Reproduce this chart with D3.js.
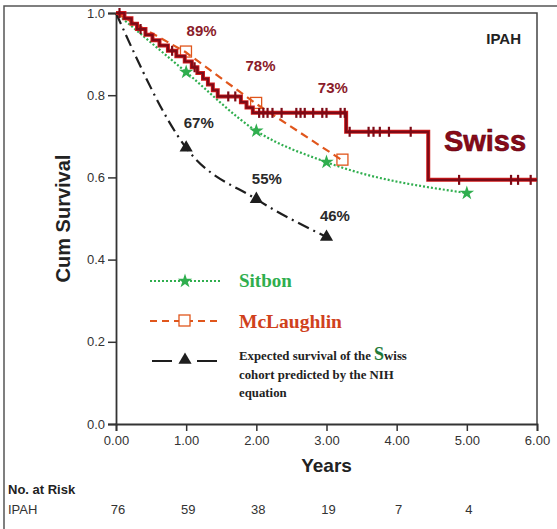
<!DOCTYPE html>
<html>
<head>
<meta charset="utf-8">
<script src="https://cdn.jsdelivr.net/npm/d3@7"></script>
<style>
  body { margin: 0; background: #fff; }
  text { font-family: "Liberation Sans", Arial, sans-serif; }
  .tick text { font-size: 13px; fill: #333; }
  .serif { font-family: "Liberation Serif", "Times New Roman", serif; font-weight: bold; }
</style>
</head>
<body>
<div id="viz"></div>
<script>
//Width and height
var w = 557;
var h = 529;

// Swiss cohort Kaplan-Meier steps (years, cum survival)
var swissTimes = [0, 0.12, 0.22, 0.30, 0.42, 0.52, 0.62, 0.74, 0.86, 0.98, 1.08, 1.16, 1.24, 1.31, 1.38, 1.45, 1.78, 1.86, 1.95, 3.28, 4.45, 6.0];
var swissSurv  = [1.0, 0.987, 0.974, 0.961, 0.947, 0.934, 0.921, 0.908, 0.895, 0.882, 0.868, 0.854, 0.840, 0.826, 0.812, 0.797, 0.783, 0.770, 0.757, 0.711, 0.594, 0.594];
// censored observations
var censorTimes = [0.05, 0.35, 0.80, 1.12, 1.60, 1.70, 2.04, 2.10, 2.16, 2.23, 2.36, 2.57, 2.63, 2.69, 2.81, 2.94, 3.0, 3.2, 3.26,
                   3.33, 3.6, 3.67, 3.76, 3.89, 4.2, 4.89, 5.63, 5.73, 5.91];

var sitbonYears = [0, 1, 2, 3, 5];
var sitbonSurv  = [1.0, 0.856, 0.713, 0.637, 0.562];

var mclYears = [0, 0.99, 1.99, 3.22];
var mclSurv  = [1.0, 0.905, 0.78, 0.642];

var nihYears = [0, 1, 2, 3];
var nihSurv  = [1.0, 0.672, 0.547, 0.455];

var swissLabels = ["89%", "78%", "73%"];
var nihLabels = ["67%", "55%", "46%"];

var riskYears = [0, 1, 2, 3, 4, 5];
var riskIPAH  = [76, 59, 38, 19, 7, 4];

var xTicks = [0, 1, 2, 3, 4, 5, 6];
var yTicks = [0, 0.2, 0.4, 0.6, 0.8, 1.0];

var colSwiss = "#7d0a16";
var colSitbon = "#2fae4e";
var colMcl = "#e0561c";
var colNih = "#1e1e1e";

var x = d3.scaleLinear().domain([0, 6]).range([116, 537]);
var y = d3.scaleLinear().domain([0, 1]).range([424, 13]);

var svg = d3.select("#viz")
            .append("svg")
            .attr("width", w)
            .attr("height", h);

// outer frame
svg.append("path")
    .attr("d", "M4,529V6H557")
    .attr("fill", "none")
    .attr("stroke", "#555")
    .attr("stroke-width", 1.5);

// plot frame top and right
svg.append("path")
    .attr("d", "M" + x(0) + "," + y(1) + "H" + x(6) + "V" + y(0))
    .attr("fill", "none")
    .attr("stroke", "#444")
    .attr("stroke-width", 1.5);

var xAxis = svg.append("g")
    .attr("transform", "translate(0," + y(0) + ")")
    .call(d3.axisBottom(x).tickValues(xTicks).tickFormat(d3.format(".2f")).tickSize(7).tickPadding(5));

var yAxis = svg.append("g")
    .attr("transform", "translate(" + x(0) + ",0)")
    .call(d3.axisLeft(y).tickValues(yTicks).tickFormat(d3.format(".1f")).tickSize(8).tickPadding(3));

[xAxis, yAxis].forEach(function(a) {
    a.select(".domain").attr("stroke", "#333").attr("stroke-width", 1.8);
    a.selectAll(".tick line").attr("stroke", "#333").attr("stroke-width", 1.5);
});

svg.append("text")
    .attr("transform", "translate(70," + y(0.5) + ") rotate(-90)")
    .attr("text-anchor", "middle")
    .attr("font-size", 20)
    .attr("font-weight", "bold")
    .attr("fill", "#222")
    .text("Cum Survival");

svg.append("text")
    .attr("x", x(3))
    .attr("y", 472)
    .attr("text-anchor", "middle")
    .attr("font-size", 19)
    .attr("font-weight", "bold")
    .attr("fill", "#222")
    .text("Years");

svg.append("text")
    .attr("x", 521).attr("y", 44)
    .attr("text-anchor", "end")
    .attr("font-size", 15).attr("font-weight", "bold")
    .attr("fill", "#222")
    .text("IPAH");

// Sitbon
var sitbon = sitbonYears.map(function(d, i) { return [d, sitbonSurv[i]]; });
svg.append("path")
    .datum(sitbon)
    .attr("fill", "none")
    .attr("stroke", colSitbon)
    .attr("stroke-width", 2.2)
    .attr("stroke-dasharray", "2,2")
    .attr("d", d3.line().x(function(d) { return x(d[0]); }).y(function(d) { return y(d[1]); }).curve(d3.curveMonotoneX));

var star = d3.symbol().type(d3.symbolStar).size(65);
svg.selectAll(".sitbon-pt")
    .data(sitbon.slice(1))
    .enter().append("path")
    .attr("transform", function(d) { return "translate(" + x(d[0]) + "," + y(d[1]) + ")"; })
    .attr("d", star)
    .attr("fill", colSitbon);

// NIH expected
var nih = nihYears.map(function(d, i) { return [d, nihSurv[i]]; });
svg.append("path")
    .datum(nih)
    .attr("fill", "none")
    .attr("stroke", colNih)
    .attr("stroke-width", 2.2)
    .attr("stroke-dasharray", "12,5,2,5")
    .attr("d", d3.line().x(function(d) { return x(d[0]); }).y(function(d) { return y(d[1]); }).curve(d3.curveMonotoneX));

var tri = d3.symbol().type(d3.symbolTriangle).size(75);
svg.selectAll(".nih-pt")
    .data(nih.slice(1))
    .enter().append("path")
    .attr("transform", function(d) { return "translate(" + x(d[0]) + "," + y(d[1]) + ")"; })
    .attr("d", tri)
    .attr("fill", colNih);

// McLaughlin
var mcl = mclYears.map(function(d, i) { return [d, mclSurv[i]]; });
svg.append("path")
    .datum(mcl)
    .attr("fill", "none")
    .attr("stroke", colMcl)
    .attr("stroke-width", 2.2)
    .attr("stroke-dasharray", "8,5")
    .attr("d", d3.line().x(function(d) { return x(d[0]); }).y(function(d) { return y(d[1]); }));

svg.selectAll(".mcl-pt")
    .data(mcl.slice(1))
    .enter().append("rect")
    .attr("x", function(d) { return x(d[0]) - 5; })
    .attr("y", function(d) { return y(d[1]) - 6; })
    .attr("width", 11).attr("height", 11)
    .attr("fill", "none")
    .attr("stroke", colMcl)
    .attr("stroke-width", 1.3);

// Swiss KM curve
var swiss = swissTimes.map(function(d, i) { return [d, swissSurv[i]]; });
var stepLine = d3.line().x(function(d) { return x(d[0]); }).y(function(d) { return y(d[1]); }).curve(d3.curveStepAfter);
svg.append("path")
    .datum(swiss)
    .attr("fill", "none")
    .attr("stroke", "#d11a1a")
    .attr("stroke-width", 4)
    .attr("d", stepLine);
svg.append("path")
    .datum(swiss)
    .attr("fill", "none")
    .attr("stroke", colSwiss)
    .attr("stroke-width", 2.2)
    .attr("d", stepLine);

function survAt(t) {
    var i = d3.bisectRight(swissTimes, t) - 1;
    return swissSurv[Math.max(0, i)];
}
svg.selectAll(".censor")
    .data(censorTimes)
    .enter().append("line")
    .attr("x1", function(d) { return x(d); })
    .attr("x2", function(d) { return x(d); })
    .attr("y1", function(d) { return y(survAt(d)) - 5; })
    .attr("y2", function(d) { return y(survAt(d)) + 5; })
    .attr("stroke", colSwiss)
    .attr("stroke-width", 2.2);

// percentage labels
var swissLabelPos = [[1.22, 0.945], [2.06, 0.86], [3.09, 0.805]];
svg.selectAll(".swiss-lbl")
    .data(swissLabels)
    .enter().append("text")
    .attr("x", function(d, i) { return x(swissLabelPos[i][0]); })
    .attr("y", function(d, i) { return y(swissLabelPos[i][1]); })
    .attr("text-anchor", "middle")
    .attr("font-size", 15).attr("font-weight", "bold")
    .attr("fill", "#8a1b2a")
    .text(function(d) { return d; });

var nihLabelPos = [[1.18, 0.72], [2.15, 0.585], [3.12, 0.495]];
svg.selectAll(".nih-lbl")
    .data(nihLabels)
    .enter().append("text")
    .attr("x", function(d, i) { return x(nihLabelPos[i][0]); })
    .attr("y", function(d, i) { return y(nihLabelPos[i][1]); })
    .attr("text-anchor", "middle")
    .attr("font-size", 15).attr("font-weight", "bold")
    .attr("fill", "#2a2a2a")
    .text(function(d) { return d; });

svg.append("text")
    .attr("x", 485).attr("y", 151)
    .attr("text-anchor", "middle")
    .attr("font-size", 29).attr("font-weight", "bold")
    .attr("fill", "#8a0a18")
    .attr("stroke", "#5a0010").attr("stroke-width", 0.6)
    .text("Swiss");

// legend
var lg = svg.append("g");
lg.append("line").attr("x1", 150).attr("x2", 220).attr("y1", 281).attr("y2", 281)
    .attr("stroke", colSitbon).attr("stroke-width", 2).attr("stroke-dasharray", "2,2");
lg.append("path").attr("transform", "translate(185,281)").attr("d", star).attr("fill", colSitbon);
lg.append("text").attr("class", "serif").attr("x", 239).attr("y", 287)
    .attr("font-size", 19).attr("fill", colSitbon).text("Sitbon");

lg.append("line").attr("x1", 150).attr("x2", 220).attr("y1", 321).attr("y2", 321)
    .attr("stroke", colMcl).attr("stroke-width", 2).attr("stroke-dasharray", "7,5");
lg.append("rect").attr("x", 179).attr("y", 315).attr("width", 11).attr("height", 11)
    .attr("fill", "#fff").attr("stroke", colMcl).attr("stroke-width", 1.3);
lg.append("text").attr("class", "serif").attr("x", 239).attr("y", 328)
    .attr("font-size", 19.5).attr("fill", "#d0411c").text("McLaughlin");

lg.append("line").attr("x1", 152).attr("x2", 172).attr("y1", 361).attr("y2", 361)
    .attr("stroke", colNih).attr("stroke-width", 2);
lg.append("line").attr("x1", 197).attr("x2", 217).attr("y1", 361).attr("y2", 361)
    .attr("stroke", colNih).attr("stroke-width", 2);
lg.append("path").attr("transform", "translate(185,360)").attr("d", tri).attr("fill", colNih);

var t1 = lg.append("text").attr("class", "serif").attr("x", 239).attr("y", 360)
    .attr("font-size", 12.8).attr("fill", "#222");
t1.append("tspan").text("Expected survival of the ");
t1.append("tspan").attr("font-size", 18).attr("fill", "#1f7a3a").text("S");
t1.append("tspan").text("wiss");
lg.append("text").attr("class", "serif").attr("x", 239).attr("y", 379)
    .attr("font-size", 12.8).attr("fill", "#222").text("cohort predicted by the NIH");
lg.append("text").attr("class", "serif").attr("x", 239).attr("y", 397)
    .attr("font-size", 12.8).attr("fill", "#222").text("equation");

// number at risk
svg.append("text").attr("x", 8).attr("y", 494)
    .attr("font-size", 13).attr("font-weight", "bold").attr("fill", "#222")
    .text("No. at Risk");
svg.append("text").attr("x", 8).attr("y", 514)
    .attr("font-size", 13).attr("fill", "#333")
    .text("IPAH");
svg.selectAll(".risk")
    .data(riskIPAH)
    .enter().append("text")
    .attr("x", function(d, i) { return x(riskYears[i]) + 2; })
    .attr("y", 514)
    .attr("text-anchor", "middle")
    .attr("font-size", 13)
    .attr("fill", "#333")
    .text(function(d) { return d; });
</script>
</body>
</html>
